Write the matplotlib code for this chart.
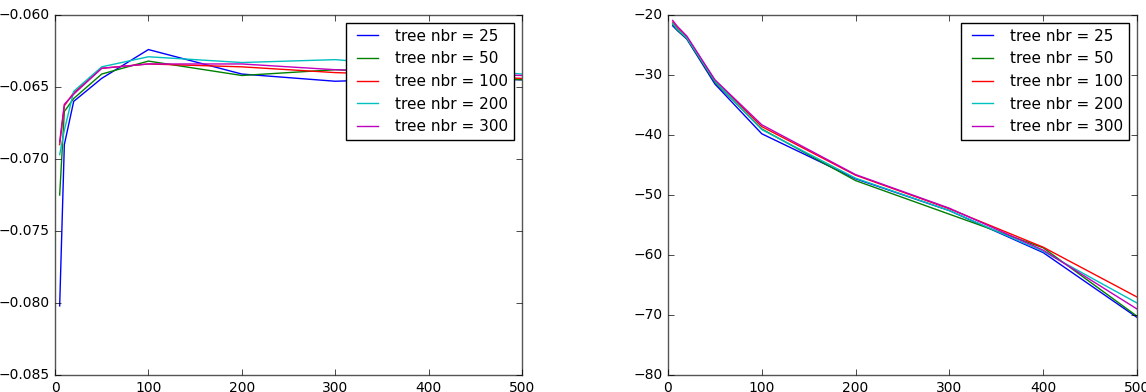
import matplotlib
matplotlib.use("Agg")
import matplotlib.pyplot as plt

plt.style.use('classic')

x_vals = [5, 10, 20, 50, 100, 200, 300, 400, 500]
labels = ['tree nbr = 25', 'tree nbr = 50', 'tree nbr = 100', 'tree nbr = 200', 'tree nbr = 300']
colors = ['b', 'g', 'r', 'c', 'm']

# left panel
left_25 = [-0.0802, -0.0690, -0.0660, -0.0644, -0.0624, -0.0641, -0.0646, -0.0644, -0.0645]
left_50 = [-0.0725, -0.0667, -0.0658, -0.0641, -0.0632, -0.0642, -0.0638, -0.0641, -0.0645]
left_100 = [-0.0690, -0.0663, -0.0654, -0.0637, -0.0634, -0.0636, -0.0640, -0.0642, -0.0644]
left_200 = [-0.0697, -0.0680, -0.0653, -0.0636, -0.0629, -0.0633, -0.0631, -0.0636, -0.0641]
left_300 = [-0.0688, -0.0662, -0.0655, -0.0637, -0.0634, -0.0634, -0.0638, -0.0640, -0.0642]

# right panel
right_25 = [-21.8, -22.6, -24.0, -31.5, -39.8, -47.3, -52.6, -59.6, -70.4]
right_50 = [-21.5, -22.5, -23.9, -31.2, -39.0, -47.6, -53.2, -58.8, -70.2]
right_100 = [-21.2, -22.2, -23.7, -30.9, -38.6, -46.7, -52.3, -58.7, -67.0]
right_200 = [-21.4, -22.4, -23.8, -31.0, -39.1, -47.2, -52.6, -59.4, -68.0]
right_300 = [-20.9, -21.9, -23.5, -30.8, -38.3, -46.6, -52.2, -59.2, -69.0]

left_series = [left_25, left_50, left_100, left_200, left_300]
right_series = [right_25, right_50, right_100, right_200, right_300]

fig = plt.figure(figsize=(11.46, 3.92), dpi=100)
fig.patch.set_facecolor('white')
ax1 = fig.add_axes([55/1146, 17/392, 467/1146, 360/392])
ax2 = fig.add_axes([668/1146, 17/392, 469/1146, 360/392])

for ax, series in ((ax1, left_series), (ax2, right_series)):
    for ys, c, lab in zip(series, colors, labels):
        ax.plot(x_vals, ys, color=c, lw=1.0, label=lab)
    ax.set_xlim(0, 500)
    ax.set_xticks([0, 100, 200, 300, 400, 500])
    ax.tick_params(labelsize=10)
    for sp in ax.spines.values():
        sp.set_edgecolor('#555555')
    ax.legend(loc='upper right', fontsize=11, borderaxespad=0.5)

ax1.set_ylim(-0.085, -0.060)
ax1.set_yticks([-0.085, -0.080, -0.075, -0.070, -0.065, -0.060])
ax2.set_ylim(-80, -20)
ax2.set_yticks([-80, -70, -60, -50, -40, -30, -20])

fig.savefig('out.png', dpi=100, facecolor='white')
